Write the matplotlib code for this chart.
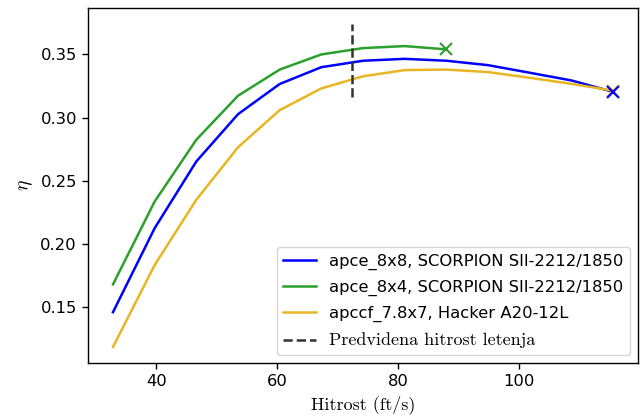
import matplotlib
matplotlib.use("Agg")
import matplotlib.pyplot as plt

plt.rcParams["mathtext.fontset"] = "cm"

# Airspeed samples (ft/s)
speed = [32.8, 39.7, 46.6, 53.5, 60.4, 67.3, 74.2, 81.1, 88.0, 94.9, 101.8, 108.7, 115.6]

# Propulsive efficiency for each propeller / motor combination
eta_8x8 = [0.146, 0.2125, 0.2653, 0.3027, 0.3266, 0.3399, 0.3450, 0.3465, 0.3450,
           0.3415, 0.3355, 0.3294, 0.3204]
eta_8x4 = [0.168, 0.2336, 0.2825, 0.3173, 0.3380, 0.3500, 0.3550, 0.3566, 0.3540]
eta_78x7 = [0.1185, 0.1833, 0.2350, 0.2765, 0.3059, 0.3231, 0.3327, 0.3376, 0.3380,
            0.3360, 0.3315, 0.3267, 0.3213]

labels = ["apce_8x8, SCORPION SII-2212/1850",
          "apce_8x4, SCORPION SII-2212/1850",
          "apccf_7.8x7, Hacker A20-12L"]

cruise_speed = 72.4
cruise_span = [0.316, 0.374]

fig = plt.figure(figsize=(6.4, 4.19), dpi=100)
ax = fig.add_axes([0.1375, 0.1336, 0.8595, 0.8474])

lw = 1.8
l1, = ax.plot(speed, eta_8x8, color="blue", lw=lw, label=labels[0])
l2, = ax.plot(speed[:len(eta_8x4)], eta_8x4, color="#2ca02c", lw=lw, label=labels[1])
l3, = ax.plot(speed, eta_78x7, color="#e8b523", lw=lw, label=labels[2])
ax.plot(speed[-1], eta_78x7[-1], marker="x", color="#e8b523", ms=8, mew=1.5)
ax.plot(speed[-1], eta_8x8[-1], marker="x", color="blue", ms=8, mew=1.5)
ax.plot(speed[len(eta_8x4) - 1], eta_8x4[-1], marker="x", color="#2ca02c", ms=8, mew=1.5)
l4, = ax.plot([cruise_speed, cruise_speed], cruise_span, ls="--", color="#333333",
              lw=lw, label="Predvidena hitrost letenja")

ax.set_xticks([40, 60, 80, 100])
ax.set_yticks([0.15, 0.20, 0.25, 0.30, 0.35])
ax.tick_params(labelsize=11.8, length=4.5, width=1.0)
for s in ax.spines.values():
    s.set_linewidth(1.0)
ax.set_xlabel("Hitrost (ft/s)", family="cmr10", fontsize=13)
ax.set_ylabel(r"$\eta$", fontsize=14)

leg = ax.legend(handles=[l1, l2, l3, l4], loc="lower right", fontsize=11.8,
                labelspacing=0.62)
for t in leg.get_texts()[3:]:
    t.set_family("cmr10")
    t.set_fontsize(13)

fig.savefig("out.png", dpi=100)
